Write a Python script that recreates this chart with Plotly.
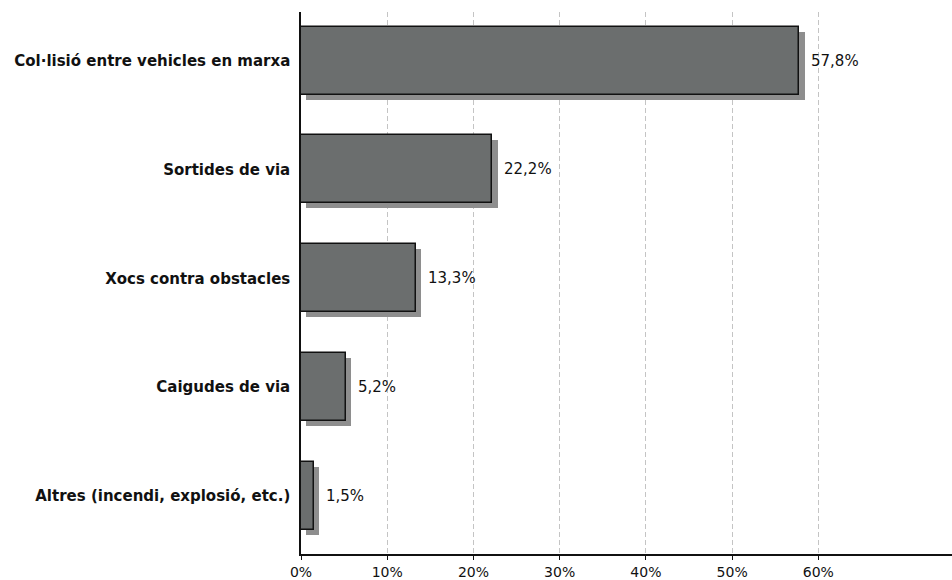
import plotly.graph_objects as go

categories = [
    "Col·lisió entre vehicles en marxa",
    "Sortides de via",
    "Xocs contra obstacles",
    "Caigudes de via",
    "Altres (incendi, explosió, etc.)",
]
values = [57.8, 22.2, 13.3, 5.2, 1.5]
value_labels = ["57,8%", "22,2%", "13,3%", "5,2%", "1,5%"]
tick_values = [0, 10, 20, 30, 40, 50, 60]
tick_labels = ["0%", "10%", "20%", "30%", "40%", "50%", "60%"]

idx = list(range(len(categories)))

# shadow offsets (in data units): ~5px right and ~5px down
sx = 0.6
sy = 0.046
bar_w = 0.625

FONT = "DejaVu Sans, Verdana, sans-serif"

fig = go.Figure()
fig.add_trace(go.Bar(
    y=[i + sy for i in idx], x=values, base=sx, orientation="h",
    width=bar_w, marker=dict(color="#8e8e8e", line=dict(width=0)),
    hoverinfo="skip", showlegend=False,
))
fig.add_trace(go.Bar(
    y=idx, x=values, orientation="h", width=bar_w,
    marker=dict(color="#6b6e6e", line=dict(color="#111111", width=1.5)),
    showlegend=False,
))

for i, v, t in zip(idx, values, value_labels):
    fig.add_annotation(
        x=v, y=i, text=t, showarrow=False, xanchor="left", yanchor="middle",
        xshift=10, font=dict(family=FONT, size=15, color="#111111"),
    )

fig.update_layout(
    width=952, height=580,
    margin=dict(l=301, r=0, t=12, b=21),
    paper_bgcolor="white", plot_bgcolor="white",
    barmode="overlay", bargap=0,
    font=dict(family=FONT, size=14, color="#111111"),
)
fig.update_xaxes(
    range=[0, 75.5], tickvals=tick_values, ticktext=tick_labels,
    showgrid=True, gridcolor="#c4c4c4", griddash="5px,3px", gridwidth=1,
    showline=True, linecolor="#111111", linewidth=1.5,
    ticks="outside", ticklen=4, tickcolor="#111111",
    tickfont=dict(size=14, family=FONT), zeroline=False, fixedrange=True,
)
fig.update_yaxes(
    range=[4.532, -0.446], tickvals=idx, ticktext=categories,
    showgrid=False, showline=True, linecolor="#111111", linewidth=1.5,
    ticks="", ticklabelstandoff=6, zeroline=False, fixedrange=True,
    tickfont=dict(size=15, family=FONT, weight="bold"),
)

fig.write_html(
    "out.html",
    config={"displayModeBar": False},
    post_script="document.body.style.margin='0';document.body.style.overflow='hidden';",
)
